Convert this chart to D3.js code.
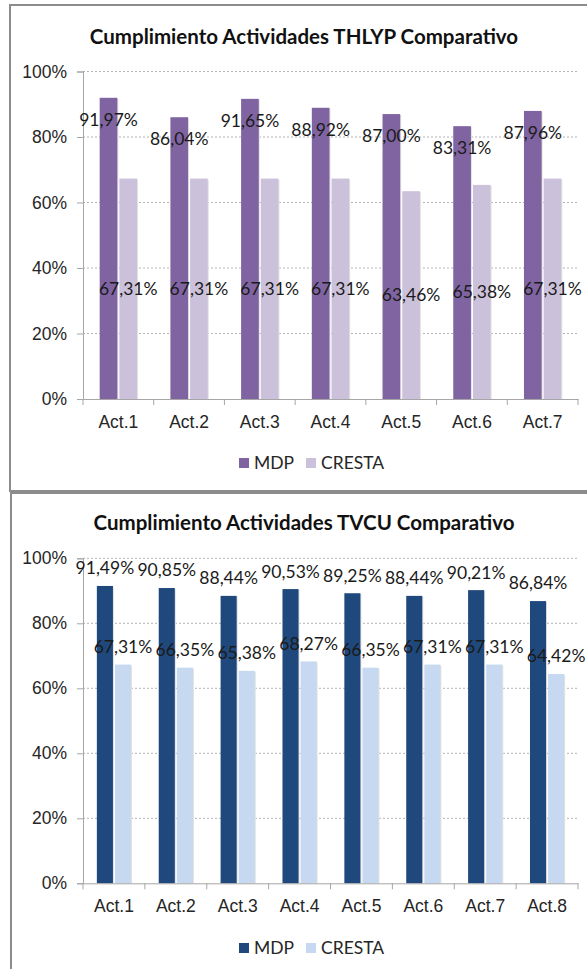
<!DOCTYPE html>
<meta charset="utf-8">
<script src="https://d3js.org/d3.v7.min.js"></script>
<html>
<style>
body { margin: 0; background: #fff; }
svg { font-family: Lato, "Open Sans", sans-serif; }
.grid line { stroke: #b3b3b3; stroke-dasharray: 2,2; }
.lbl { font-size: 17.5px; fill: #1a1a1a; }
.tick text { font-size: 17.5px; fill: #262626; }
</style>
<body>
<div id="chart"></div>
</body>
<script>
// data
var seriesNames = ["MDP", "CRESTA"];

var thlypActs = ["Act.1", "Act.2", "Act.3", "Act.4", "Act.5", "Act.6", "Act.7"];
var thlypMDP = [91.97, 86.04, 91.65, 88.92, 87.00, 83.31, 87.96];
var thlypCresta = [67.31, 67.31, 67.31, 67.31, 63.46, 65.38, 67.31];

var tvcuActs = ["Act.1", "Act.2", "Act.3", "Act.4", "Act.5", "Act.6", "Act.7", "Act.8"];
var tvcuMDP = [91.49, 90.85, 88.44, 90.53, 89.25, 88.44, 90.21, 86.84];
var tvcuCresta = [67.31, 66.35, 65.38, 68.27, 66.35, 67.31, 67.31, 64.42];

var yTicks = [0, 20, 40, 60, 80, 100];

var W = 587, H = 969;
var svg = d3.select("#chart").append("svg")
    .attr("width", W)
    .attr("height", H);

function fmt(v) {
    return v.toFixed(2).replace(".", ",") + "%";
}

function drawChart(opt) {
    var g = svg.append("g");

    // frame
    g.append("rect")
        .attr("x", opt.frame[0]).attr("y", opt.frame[1])
        .attr("width", opt.frame[2]).attr("height", opt.frame[3])
        .attr("fill", "none")
        .attr("stroke", "#8c8c8c")
        .attr("stroke-width", 2);

    g.append("text")
        .attr("x", 304)
        .attr("y", opt.titleY)
        .attr("text-anchor", "middle")
        .style("font-size", "20.5px")
        .style("font-weight", "bold")
        .style("fill", "#111")
        .text(opt.title);

    var x = d3.scaleBand()
        .domain(opt.acts)
        .range([83, 578]);

    var y = d3.scaleLinear()
        .domain([0, 100])
        .range([opt.y0, opt.y100]);

    // gridlines
    g.append("g")
        .attr("class", "grid")
        .selectAll("line")
        .data(yTicks.slice(1))
        .enter().append("line")
        .attr("x1", 83).attr("x2", 578)
        .attr("y1", function (d) { return y(d); })
        .attr("y2", function (d) { return y(d); });

    // y axis
    var yAxis = g.append("g")
        .attr("transform", "translate(83,0)")
        .call(d3.axisLeft(y).tickValues(yTicks).tickSize(6).tickPadding(10)
            .tickFormat(function (d) { return d + "%"; }));
    yAxis.select(".domain").attr("stroke", "#a6a6a6");
    yAxis.selectAll(".tick line").attr("stroke", "#a6a6a6");

    var bw = x.bandwidth() * opt.barRatio;
    var groups = g.selectAll(".grp")
        .data(opt.acts)
        .enter().append("g")
        .attr("class", "grp")
        .attr("transform", function (d) { return "translate(" + (x(d) + x.bandwidth() / 2) + ",0)"; });

    var series = [opt.mdp, opt.cresta];
    series.forEach(function (vals, s) {
        var off = s === 0 ? -bw - 1 : 1;
        // soft shadow
        groups.append("rect")
            .attr("x", off + 1)
            .attr("y", function (d, i) { return y(vals[i]) + 1; })
            .attr("width", bw)
            .attr("height", function (d, i) { return opt.y0 - y(vals[i]) - 1; })
            .attr("fill", "#e2e2e2");
        groups.append("rect")
            .attr("x", off)
            .attr("y", function (d, i) { return y(vals[i]); })
            .attr("width", bw)
            .attr("height", function (d, i) { return opt.y0 - y(vals[i]); })
            .attr("fill", opt.colors[s]);
    });

    // x axis
    var xAxis = g.append("g")
        .attr("transform", "translate(0," + opt.y0 + ")")
        .call(d3.axisBottom(x).tickSize(0).tickPadding(16));
    xAxis.select(".domain").attr("stroke", "#a6a6a6");
    xAxis.selectAll(".tick text").attr("dy", "0.75em");
    g.append("g").selectAll("line")
        .data(opt.acts.concat(["end"]))
        .enter().append("line")
        .attr("x1", function (d, i) { return 83 + i * x.step(); })
        .attr("x2", function (d, i) { return 83 + i * x.step(); })
        .attr("y1", opt.y0).attr("y2", opt.y0 + 6)
        .attr("stroke", "#a6a6a6");

    // labels
    series.forEach(function (vals, s) {
        var off = s === 0 ? -bw / 2 - 1 : bw / 2 + 1;
        groups.append("text")
            .attr("class", "lbl")
            .attr("x", off)
            .attr("y", function (d, i) { return opt.labelY[s](vals[i], y); })
            .attr("dy", "0.35em")
            .attr("text-anchor", "middle")
            .text(function (d, i) { return fmt(vals[i]); });
    });

    // legend
    var leg = g.append("g").attr("transform", "translate(0," + opt.legendY + ")");
    var lx = [239, 306];
    seriesNames.forEach(function (n, s) {
        leg.append("rect")
            .attr("x", lx[s]).attr("y", -5)
            .attr("width", 10).attr("height", 10)
            .attr("fill", opt.colors[s]);
        leg.append("text")
            .attr("class", "lbl")
            .attr("x", lx[s] + 15)
            .attr("y", 0)
            .attr("dy", "0.35em")
            .style("fill", "#262626")
            .text(n);
    });
}

drawChart({
    title: "Cumplimiento Actividades THLYP Comparativo",
    frame: [10, 5, 600, 486],
    titleY: 44,
    acts: thlypActs,
    mdp: thlypMDP,
    cresta: thlypCresta,
    y0: 399, y100: 71.5,
    barRatio: 0.25,
    colors: ["#8064a2", "#ccc1da"],
    labelY: [
        function (v, y) { return y(v) + 22; },
        function (v, y) { return (y(v) + y(0)) / 2; }
    ],
    legendY: 463
});

drawChart({
    title: "Cumplimiento Actividades TVCU Comparativo",
    frame: [11, 493, 600, 500],
    titleY: 530,
    acts: tvcuActs,
    mdp: tvcuMDP,
    cresta: tvcuCresta,
    y0: 883.3, y100: 558.3,
    barRatio: 0.26,
    colors: ["#1f497d", "#c6d9f1"],
    labelY: [
        function (v, y) { return y(v) - 17.7; },
        function (v, y) { return y(v) - 17.7; }
    ],
    legendY: 948
});
</script>
</html>
